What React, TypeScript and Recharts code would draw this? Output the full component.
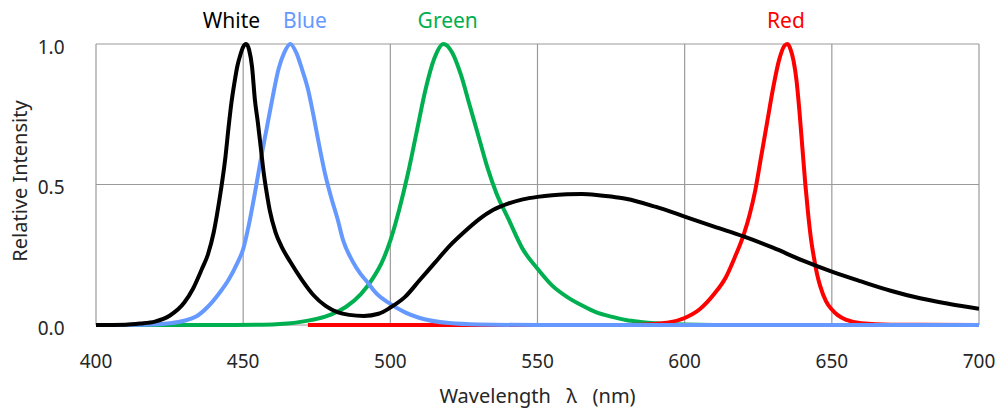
import { LineChart, Line, XAxis, YAxis, CartesianGrid, ReferenceDot, Label } from "recharts"

// wavelength (nm), relative intensity
const white: [number, number][] = [
  [400, 0], [410, 0.001], [415, 0.005], [420, 0.012], [425, 0.033], [430, 0.08], [433, 0.13],
  [436, 0.2], [438, 0.25], [440, 0.33], [442, 0.45], [443, 0.52], [444, 0.6], [445, 0.7],
  [446, 0.79], [447, 0.86], [448, 0.92], [449, 0.96], [450, 0.99], [451, 1.0], [452, 0.98],
  [453, 0.92], [454, 0.8], [455, 0.72], [456, 0.63], [457, 0.54], [458, 0.47], [459, 0.41],
  [461, 0.33], [463, 0.28], [466, 0.225], [470, 0.16], [474, 0.105], [478, 0.068],
  [482, 0.046], [486, 0.036], [491, 0.032], [496, 0.04], [500, 0.062], [505, 0.1],
  [510, 0.16], [515, 0.22], [520, 0.28], [525, 0.33], [530, 0.375], [535, 0.41],
  [540, 0.432], [545, 0.447], [550, 0.456], [555, 0.462], [560, 0.465], [565, 0.466],
  [570, 0.463], [575, 0.457], [580, 0.449], [590, 0.421], [600, 0.386], [610, 0.35],
  [620, 0.315], [630, 0.275], [640, 0.23], [650, 0.19], [660, 0.155], [670, 0.122],
  [680, 0.095], [690, 0.075], [700, 0.058],
]

const blue: [number, number][] = [
  [400, 0], [420, 0.002], [425, 0.006], [430, 0.015], [434, 0.03], [438, 0.065], [442, 0.115],
  [445, 0.16], [448, 0.22], [450, 0.27], [452, 0.36], [454, 0.47], [456, 0.59], [458, 0.7],
  [460, 0.81], [462, 0.91], [464, 0.97], [466, 1.0], [468, 0.97], [470, 0.91], [472, 0.84],
  [474, 0.74], [476, 0.63], [478, 0.53], [480, 0.45], [482, 0.38], [484, 0.3], [487, 0.23],
  [490, 0.18], [492, 0.155], [495, 0.115], [500, 0.075], [505, 0.045], [510, 0.025],
  [520, 0.007], [530, 0.002], [550, 0], [600, 0], [700, 0],
]

const green: [number, number][] = [
  [400, 0], [440, 0], [460, 0.002], [465, 0.005], [470, 0.012], [475, 0.022], [480, 0.038],
  [485, 0.065], [490, 0.11], [494, 0.165], [497, 0.22], [500, 0.3], [503, 0.41], [506, 0.54],
  [509, 0.69], [512, 0.84], [515, 0.95], [518, 1.0], [521, 0.97], [524, 0.89], [527, 0.78],
  [530, 0.67], [533, 0.56], [536, 0.47], [540, 0.38], [545, 0.27], [550, 0.2], [555, 0.14],
  [560, 0.1], [565, 0.07], [570, 0.045], [575, 0.03], [580, 0.018], [585, 0.011],
  [590, 0.006], [600, 0.002], [620, 0], [700, 0],
]

const red: [number, number][] = [
  [472, 0], [580, 0], [590, 0.004], [595, 0.01], [600, 0.025], [605, 0.055], [610, 0.11],
  [614, 0.17], [617, 0.24], [620, 0.32], [622, 0.39], [624, 0.48], [626, 0.6], [628, 0.72],
  [630, 0.84], [632, 0.94], [634, 0.995], [635, 1.0], [636, 0.98], [637, 0.94], [638, 0.87],
  [639, 0.76], [640, 0.63], [641, 0.5], [642, 0.39], [643, 0.3], [644, 0.235], [645, 0.18],
  [646, 0.14], [648, 0.085], [650, 0.055], [652, 0.035], [655, 0.018], [660, 0.006],
  [670, 0.001], [700, 0],
]

const xTicks = [400, 450, 500, 550, 600, 650, 700]
const yTicks = [0, 0.5, 1.0]

const seriesNames = ["White", "Blue", "Green", "Red"]
const nameAt = [446, 471, 519.5, 634.4]

const colors = { White: "#000000", Blue: "#6699FF", Green: "#00B050", Red: "#FF0000" }
const textColor = "#262626"

const rows = (pts: [number, number][]) => pts.map(([wl, v]) => ({ wl, v }))

const XTick = ({ x, y, payload }: any) => (
  <text x={x} y={y + 41} textAnchor="middle" fontSize={19} fill={textColor}>
    {payload.value}
  </text>
)

const YTick = ({ x, y, payload }: any) => (
  <text x={x - 29.5} y={y + 9.5} textAnchor="end" fontSize={19} fill={textColor}>
    {Number(payload.value).toFixed(1)}
  </text>
)

const YTitle = () => (
  <text transform="translate(19,181) rotate(-90)" textAnchor="middle" dominantBaseline="central"
    fontSize={20} fill={textColor}>
    Relative Intensity
  </text>
)

export default function App() {
  return (
    <div style={{ position: "absolute", left: 0, top: 0, fontFamily: '"Noto Sans", sans-serif' }}>
      <LineChart width={998} height={410} margin={{ top: 44, right: 19, bottom: 0, left: 0 }}>
        <CartesianGrid stroke="#9a9a9a" strokeWidth={1.2} />
        <XAxis dataKey="wl" type="number" domain={[400, 700]} ticks={xTicks} allowDataOverflow
          height={85} tickSize={0} tickLine={false} axisLine={false} tick={<XTick />}
          label={{ value: "Wavelength\u00a0\u00a0\u00a0λ\u00a0\u00a0\u00a0(nm)", position: "insideBottom", offset: 7, fontSize: 20, fill: textColor }} />
        <YAxis type="number" domain={[0, 1]} ticks={yTicks} width={96} tickSize={0}
          tickLine={false} axisLine={false} tick={<YTick />}>
          <Label content={<YTitle />} />
        </YAxis>
        <Line data={rows(green)} dataKey="v" type="monotone" stroke={colors.Green} strokeWidth={4} dot={false} isAnimationActive={false} />
        <Line data={rows(red)} dataKey="v" type="monotone" stroke={colors.Red} strokeWidth={4} dot={false} isAnimationActive={false} />
        <Line data={rows(blue)} dataKey="v" type="monotone" stroke={colors.Blue} strokeWidth={4} dot={false} isAnimationActive={false} />
        <Line data={rows(white)} dataKey="v" type="monotone" stroke={colors.White} strokeWidth={4} dot={false} isAnimationActive={false} />
        {seriesNames.map((name, i) => (
          <ReferenceDot key={name} x={nameAt[i]} y={1} r={0} stroke="none" fill="none" ifOverflow="visible"
            label={{ value: name, position: "top", offset: 16, fontSize: 21, fill: colors[name as keyof typeof colors] }} />
        ))}
      </LineChart>
    </div>
  )
}
